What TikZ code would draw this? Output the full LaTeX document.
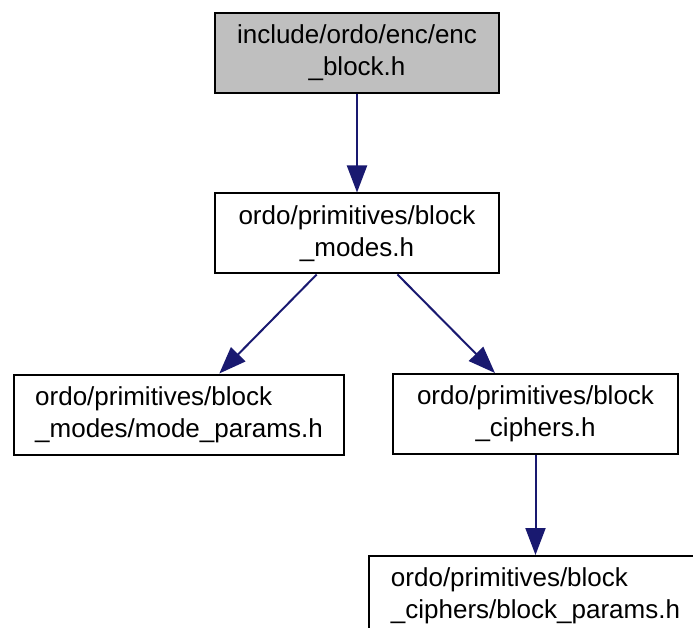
\documentclass[tikz,border=0pt]{standalone}
\usepackage{fontspec}
\setmainfont{Liberation Sans}
\usepackage{xcolor}
\definecolor{edgeblue}{HTML}{191970}
\definecolor{focusgray}{HTML}{BFBFBF}
\usepackage{tikz}
\usetikzlibrary{arrows.meta}
\tikzset{
    filebox/.style={draw=black, line width=2pt, fill=white, inner sep=0pt, minimum height=80pt, font=\fontsize{26}{32}\selectfont},
    focusbox/.style={filebox, fill=focusgray},
    incl/.style={-{Triangle[length=27pt,width=20pt]}, line width=2pt, edgeblue}
}

\begin{document}
\begin{tikzpicture}[x=1pt, y=-1pt]
  \clip (0,0) rectangle (693,628);
  \fill[white] (0,0) rectangle (693,628);

  % File nodes
  \node[focusbox, minimum width=284pt, align=center] (encblock) at (357, 53) {include/ordo/enc/enc\\\_block.h};
  \node[filebox, minimum width=284pt, align=center] (blockmodes) at (357, 233.5) {ordo/primitives/block\\\_modes.h};
  \node[filebox, minimum width=330pt, align=left] (modeparams) at (179, 414.5) {ordo/primitives/block\\\_modes/mode\_params.h};
  \node[filebox, minimum width=285pt, align=center] (blockciphers) at (535.5, 414) {ordo/primitives/block\\\_ciphers.h};
  \node[filebox, minimum width=333pt, align=left] (blockparams) at (535.5, 596) {ordo/primitives/block\\\_ciphers/block\_params.h};

  % Include edges
  \draw[incl] (encblock) -- (blockmodes);
  \draw[incl] (blockmodes) -- (modeparams);
  \draw[incl] (blockmodes) -- (blockciphers);
  \draw[incl] (blockciphers) -- (blockparams);
\end{tikzpicture}
\end{document}
